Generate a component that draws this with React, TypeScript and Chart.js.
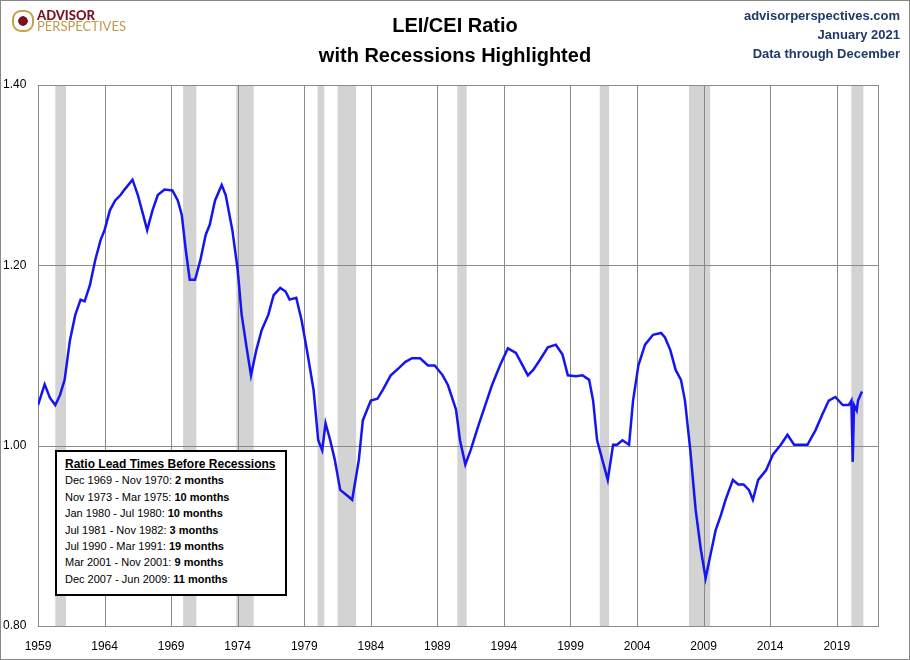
import React, { useEffect, useRef } from "react";
import { Chart, registerables } from "chart.js";
Chart.register(...registerables);

const years = [1959.0,1959.5,1959.9,1960.3,1960.65,1961.0,1961.4,1961.8,1962.2,1962.5,1962.9,1963.3,1963.7,1964.0,1964.4,1964.8,1965.2,1965.5,1966.1,1966.5,1966.9,1967.2,1967.6,1968.0,1968.5,1969.1,1969.5,1969.8,1970.1,1970.4,1970.8,1971.2,1971.6,1971.9,1972.3,1972.8,1973.1,1973.6,1974.0,1974.3,1974.7,1975.0,1975.4,1975.8,1976.3,1976.7,1977.2,1977.6,1977.9,1978.4,1978.8,1979.2,1979.7,1980.05,1980.35,1980.6,1980.95,1981.3,1981.7,1982.2,1982.6,1983.1,1983.4,1984.0,1984.5,1984.9,1985.5,1986.1,1986.6,1987.1,1987.7,1988.3,1988.8,1989.4,1989.8,1990.4,1990.7,1991.1,1991.5,1992.1,1992.6,1993.1,1993.7,1994.3,1994.9,1995.4,1995.8,1996.2,1996.7,1997.3,1997.9,1998.4,1998.8,1999.4,1999.9,2000.4,2000.7,2001.0,2001.4,2001.8,2002.2,2002.5,2002.9,2003.4,2003.7,2004.1,2004.6,2005.2,2005.8,2006.1,2006.5,2006.9,2007.3,2007.6,2008.0,2008.4,2008.8,2009.15,2009.5,2009.9,2010.3,2010.65,2011.2,2011.6,2012.0,2012.4,2012.7,2013.1,2013.7,2014.2,2014.8,2015.3,2015.8,2016.3,2016.8,2017.4,2017.9,2018.4,2018.9,2019.45,2019.9,2020.1,2020.2,2020.3,2020.5,2020.6,2020.9];
const ratio = [1.045,1.068,1.053,1.045,1.056,1.073,1.117,1.145,1.162,1.160,1.178,1.206,1.228,1.239,1.261,1.272,1.278,1.284,1.295,1.278,1.256,1.239,1.261,1.278,1.284,1.283,1.272,1.256,1.217,1.184,1.184,1.206,1.234,1.245,1.272,1.289,1.278,1.239,1.195,1.145,1.106,1.078,1.106,1.128,1.145,1.167,1.175,1.171,1.162,1.164,1.139,1.106,1.062,1.006,0.995,1.025,1.006,0.984,0.951,0.945,0.940,0.984,1.028,1.050,1.052,1.062,1.078,1.086,1.093,1.097,1.097,1.089,1.089,1.078,1.067,1.040,1.006,0.979,0.995,1.023,1.045,1.067,1.089,1.108,1.103,1.089,1.078,1.084,1.095,1.109,1.112,1.101,1.078,1.077,1.078,1.073,1.050,1.006,0.984,0.962,1.001,1.001,1.006,1.001,1.050,1.089,1.112,1.123,1.125,1.120,1.106,1.084,1.073,1.050,0.995,0.929,0.884,0.853,0.878,0.906,0.923,0.940,0.962,0.957,0.957,0.951,0.940,0.962,0.973,0.990,1.001,1.012,1.001,1.001,1.001,1.017,1.034,1.050,1.054,1.045,1.045,1.050,0.982,1.045,1.039,1.050,1.060];
const recessionStart = [1960.3,1969.9,1973.9,1980.0,1981.5,1990.5,2001.2,2007.9,2020.1];
const recessionEnd = [1961.1,1970.9,1975.2,1980.5,1982.9,1991.2,2001.9,2009.5,2021.0];
const xTicks = [1959,1964,1969,1974,1979,1984,1989,1994,1999,2004,2009,2014,2019];
const yTicks = [0.8,1.0,1.2,1.4];
const leadTimes = [
  ["Dec 1969 - Nov 1970: ", "2 months"],
  ["Nov 1973 - Mar 1975: ", "10 months"],
  ["Jan 1980 - Jul 1980: ", "10 months"],
  ["Jul 1981 - Nov 1982: ", "3 months"],
  ["Jul 1990 - Mar 1991: ", "19 months"],
  ["Mar 2001 - Nov 2001: ", "9 months"],
  ["Dec 2007 - Jun 2009: ", "11 months"],
];

const bandsPlugin = {
  id: "bands",
  beforeDatasetsDraw(chart: any) {
    const { ctx, chartArea, scales } = chart;
    ctx.save();
    ctx.fillStyle = "#d3d3d3";
    recessionStart.forEach((s, i) => {
      const a = scales.x.getPixelForValue(s);
      const b = scales.x.getPixelForValue(recessionEnd[i]);
      ctx.fillRect(a, chartArea.top, b - a, chartArea.bottom - chartArea.top);
    });
    ctx.strokeStyle = "#8a8a8a";
    ctx.lineWidth = 1;
    xTicks.forEach((t) => {
      const p = Math.round(scales.x.getPixelForValue(t)) + 0.5;
      ctx.beginPath(); ctx.moveTo(p, chartArea.top); ctx.lineTo(p, chartArea.bottom); ctx.stroke();
    });
    yTicks.forEach((t) => {
      const p = Math.round(scales.y.getPixelForValue(t)) + 0.5;
      ctx.beginPath(); ctx.moveTo(chartArea.left, p); ctx.lineTo(chartArea.right, p); ctx.stroke();
    });
    ctx.strokeRect(Math.round(chartArea.left) + 0.5, Math.round(chartArea.top) + 0.5, Math.round(chartArea.right - chartArea.left), Math.round(chartArea.bottom - chartArea.top));
    ctx.restore();
  },
};

export default function App() {
  const ref = useRef<HTMLCanvasElement>(null);
  useEffect(() => {
    const chart = new Chart(ref.current!, {
      type: "line",
      data: {
        datasets: [{
          data: years.map((x, i) => ({ x, y: ratio[i] })),
          borderColor: "#1515f0",
          borderWidth: 2.5,
          pointRadius: 0,
          tension: 0,
        }],
      },
      options: {
        animation: false,
        responsive: false,
        layout: { padding: { top: 85, right: 32, left: 3, bottom: 0 } },
        plugins: { legend: { display: false }, tooltip: { enabled: false } },
        scales: {
          x: {
            type: "linear", min: 1959, max: 2022.1,
            afterBuildTicks: (s: any) => { s.ticks = xTicks.map((v) => ({ value: v })); },
            afterFit: (s: any) => { s.height = 34; },
            grid: { display: false },
            border: { display: false },
            ticks: { color: "#000", font: { family: "Liberation Sans", size: 12 }, padding: 5, maxRotation: 0, callback: (v: any) => String(v) },
          },
          y: {
            min: 0.8, max: 1.4,
            afterBuildTicks: (s: any) => { s.ticks = yTicks.map((v) => ({ value: v })); },
            afterFit: (s: any) => { s.width = 35; },
            grid: { display: false },
            border: { display: false },
            ticks: { color: "#000", crossAlign: "far", font: { family: "Liberation Sans", size: 12 }, callback: (v: any) => Number(v).toFixed(2) },
          },
        },
      },
      plugins: [bandsPlugin],
    } as any);
    return () => chart.destroy();
  }, []);
  const blue = "#1f3a68";
  return (
    <div style={{ position: "absolute", left: 0, top: 0, width: 910, height: 660, background: "#fff", fontFamily: "Liberation Sans, sans-serif" }}>
      <canvas ref={ref} width={910} height={660} style={{ position: "absolute", left: 0, top: 0 }} />
      <div style={{ position: "absolute", left: 0, top: 0, width: 908, height: 658, border: "1px solid #888", pointerEvents: "none" }} />
      <div style={{ position: "absolute", left: 12, top: 10, display: "flex", alignItems: "center" }}>
        <div style={{ width: 18, height: 18, borderRadius: 9, border: "2px solid #c9a04a", background: "radial-gradient(#7a1020 35%, #fff 40%)", marginRight: 3 }} />
        <div style={{ lineHeight: "11px", fontFamily: "Lato, sans-serif" }}>
          <div style={{ color: "#7a1020", fontWeight: 900, fontSize: 13 }}>ADVISOR</div>
          <div style={{ color: "#c09a4a", fontSize: 13 }}>PERSPECTIVES</div>
        </div>
      </div>
      <div style={{ position: "absolute", left: 0, width: 910, top: 10, textAlign: "center", fontWeight: "bold", fontSize: 20, lineHeight: "30px", color: "#000" }}>
        LEI/CEI Ratio<br />with Recessions Highlighted
      </div>
      <div style={{ position: "absolute", right: 10, top: 6, textAlign: "right", color: blue, fontWeight: "bold", fontSize: 13, lineHeight: "19px" }}>
        advisorperspectives.com<br />January 2021<br />Data through December
      </div>
      <div style={{ position: "absolute", left: 55, top: 450, width: 220, height: 138, border: "2px solid #000", background: "#fff", fontSize: 11, padding: "4px 0 0 8px", boxSizing: "content-box", lineHeight: "16.4px" }}>
        <div style={{ fontWeight: "bold", textDecoration: "underline", fontSize: 12 }}>Ratio Lead Times Before Recessions</div>
        {leadTimes.map(([a, b]) => (
          <div key={a}>{a}<b>{b}</b></div>
        ))}
      </div>
    </div>
  );
}
